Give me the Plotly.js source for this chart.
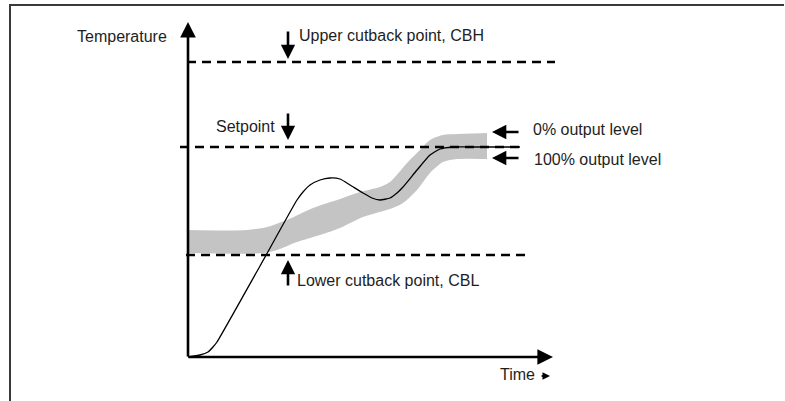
<!DOCTYPE html>
<html>
<head>
<meta charset="utf-8">
<script src="https://cdn.plot.ly/plotly-3.0.1.min.js"></script>
<style>html,body{margin:0;padding:0;background:#fff;}#chart{width:785px;height:401px;}</style>
</head>
<body>
<div id="chart"></div>
<script>
// Diagram units: time and temperature measured from the axes' origin.
// Process-variable response curve
const curveTime = [0, 12, 20, 25, 29, 72, 109, 115, 122, 132, 142, 152, 162, 175, 184, 192, 202, 209, 215, 229, 242, 252, 265, 282, 332];
const curveTemp = [0, 2, 5, 10, 15, 91, 157, 165, 172, 177, 179, 178, 172, 164, 159, 157, 159, 164, 170, 187, 202, 208, 210, 210, 210];

// Proportional band: upper edge (0% output level) and lower edge (100% output level)
const bandUpperTime = [0, 59, 79, 99, 125, 152, 172, 192, 202, 219, 232, 242, 255, 269, 299];
const bandUpperTemp = [127, 127, 130, 137, 149, 158, 165, 170, 175, 194, 207, 217, 222, 223, 224];
const bandLowerTime = [0, 75, 89, 109, 132, 152, 175, 202, 215, 229, 242, 255, 269, 299];
const bandLowerTemp = [104, 104, 107, 115, 122, 129, 140, 148, 154, 167, 184, 195, 198, 198];

// Reference levels
const levelNames = ["Upper cutback point, CBH", "Setpoint", "Lower cutback point, CBL"];
const levelTemps = [295, 210, 102];
const levelStart = [-1, -8, -2];
const levelEnd = [367, 332, 339];

// Axis extents
const timeAxisEnd = 365;
const tempAxisEnd = 335;

const FONT = {family: 'Arial, "Liberation Sans", sans-serif', size: 16, color: '#1e1e1e'};

const traces = [];
// frame
traces.push({x: [-178, -178, 596], y: [-44, 352, 352], mode: 'lines',
  line: {color: '#3a3a3a', width: 2}, hoverinfo: 'skip', cliponaxis: false});
// band
traces.push({x: bandLowerTime, y: bandLowerTemp, mode: 'lines',
  line: {width: 0, shape: 'spline', smoothing: 0.8}, hoverinfo: 'skip'});
traces.push({x: bandUpperTime, y: bandUpperTemp, mode: 'lines', fill: 'tonexty',
  fillcolor: '#c4c4c4', line: {width: 0, shape: 'spline', smoothing: 0.8}, hoverinfo: 'skip'});
// dashed levels
for (let i = 0; i < levelTemps.length; i++) {
  traces.push({x: [levelStart[i], levelEnd[i]], y: [levelTemps[i], levelTemps[i]], mode: 'lines',
    line: {color: '#000', width: 2.4, dash: '9px,6px'}, hoverinfo: 'skip', name: levelNames[i]});
}
// response curve
traces.push({x: curveTime, y: curveTemp, mode: 'lines',
  line: {color: '#000', width: 1.3, shape: 'spline', smoothing: 0.5}, hoverinfo: 'skip'});

function arrow(xTip, yTip, xTail, yTail, w, size) {
  return {x: xTip, y: yTip, ax: xTail, ay: yTail, xref: 'x', yref: 'y', axref: 'x', ayref: 'y',
    text: '', showarrow: true, arrowhead: 2, arrowsize: size || 1, arrowwidth: w || 2.5,
    arrowcolor: '#000', standoff: 0, startstandoff: 0};
}
function label(text, x, y, xanchor) {
  return {x: x, y: y, xref: 'x', yref: 'y', text: text, showarrow: false,
    xanchor: xanchor || 'left', yanchor: 'middle', font: FONT};
}

const annotations = [
  // axes
  arrow(0, tempAxisEnd, 0, -1, 2.6, 1.2),
  arrow(timeAxisEnd, 0, -1, 0, 2.6, 1.2),
  // level arrows
  arrow(100, levelTemps[0] + 3, 100, 327, 2.6, 1.1),
  arrow(100, levelTemps[1] + 7, 100, 245, 2.6, 1.1),
  arrow(100, levelTemps[2] - 5, 100, 70, 2.6, 1.1),
  // band edge arrows
  arrow(304, 225, 332, 225, 2.6, 1.1),
  arrow(304, 199, 332, 199, 2.6, 1.1),
  // time arrow
  arrow(362, -19, 352, -19, 1.5, 1),
  // labels
  label('Temperature', -19, 321, 'right'),
  label(levelNames[0], 109, 322),
  label(levelNames[1], 26, 231),
  label(levelNames[2], 107, 77),
  label('0% output level', 343, 228),
  label('100% output level', 344, 198),
  label('Time', 310, -17)
];

const layout = {
  width: 785, height: 401,
  margin: {l: 0, r: 0, t: 0, b: 0},
  paper_bgcolor: '#fff', plot_bgcolor: '#fff',
  showlegend: false,
  xaxis: {range: [-188, 597], visible: false, fixedrange: true},
  yaxis: {range: [-44, 357], visible: false, fixedrange: true},
  annotations: annotations
};

Plotly.newPlot('chart', traces, layout, {staticPlot: true, displayModeBar: false});
</script>
</body>
</html>
